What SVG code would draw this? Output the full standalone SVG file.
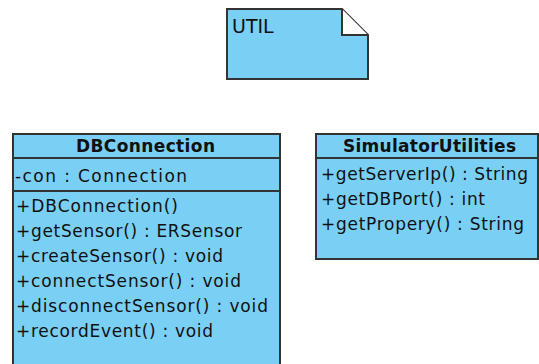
<svg xmlns="http://www.w3.org/2000/svg" width="539" height="364" viewBox="0 0 539 364">
  <style>
    .box { fill: #79cff4; stroke: #333333; stroke-width: 2; }
    .sep { stroke: #333333; stroke-width: 2; }
    .fold { fill: #ffffff; stroke: #333333; stroke-width: 2; stroke-linejoin: miter; }
    text { font-family: "DejaVu Sans", "Liberation Sans", sans-serif; font-size: 17px; fill: #111111; }
    .title { font-weight: bold; text-anchor: middle; }
    .note { font-size: 19px; }
  </style>
  <rect width="539" height="364" fill="#ffffff"/>

  <!-- UTIL note -->
  <g id="util">
    <path class="box" d="M227,9 H342 L368,35 V79 H227 Z"/>
    <path class="fold" d="M342,9 V35 H368"/>
    <text class="note" x="232" y="33">UTIL</text>
  </g>

  <!-- DBConnection class -->
  <g id="dbconnection">
    <rect class="box" x="13" y="134" width="267" height="240"/>
    <line class="sep" x1="13" y1="158" x2="280" y2="158"/>
    <line class="sep" x1="13" y1="191" x2="280" y2="191"/>
    <text class="title" x="145.5" y="152" textLength="139" lengthAdjust="spacing">DBConnection</text>
    <text x="15" y="182" textLength="172" lengthAdjust="spacing">-con : Connection</text>
    <text x="16" y="212" textLength="162" lengthAdjust="spacing">+DBConnection()</text>
    <text x="16" y="237" textLength="226" lengthAdjust="spacing">+getSensor() : ERSensor</text>
    <text x="16" y="262" textLength="207" lengthAdjust="spacing">+createSensor() : void</text>
    <text x="16" y="287" textLength="225" lengthAdjust="spacing">+connectSensor() : void</text>
    <text x="16" y="312" textLength="252" lengthAdjust="spacing">+disconnectSensor() : void</text>
    <text x="16" y="337" textLength="197" lengthAdjust="spacing">+recordEvent() : void</text>
  </g>

  <!-- SimulatorUtilities class -->
  <g id="simulatorutilities">
    <rect class="box" x="316" y="134" width="222" height="125"/>
    <line class="sep" x1="316" y1="158" x2="538" y2="158"/>
    <text class="title" x="429.5" y="152" textLength="173" lengthAdjust="spacing">SimulatorUtilities</text>
    <text x="321" y="180" textLength="207" lengthAdjust="spacing">+getServerIp() : String</text>
    <text x="321" y="205" textLength="164" lengthAdjust="spacing">+getDBPort() : int</text>
    <text x="321" y="230" textLength="203" lengthAdjust="spacing">+getPropery() : String</text>
  </g>

  <!-- connectors -->
  <g id="connectors"></g>
</svg>
